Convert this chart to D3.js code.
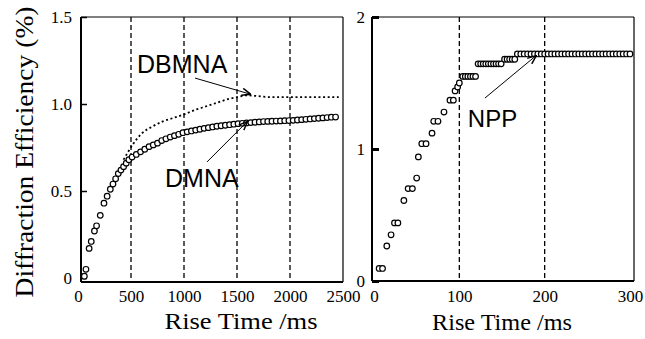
<!DOCTYPE html>
<html>
<head>
<meta charset="utf-8">
<script src="https://cdn.jsdelivr.net/npm/d3@7"></script>
<style>
  body { margin: 0; background: #fff; }
  svg { display: block; }
</style>
</head>
<body>
<svg id="chart" width="645" height="339"></svg>
<script>
// Left panel: DMNA (open markers) and DBMNA (dotted line)
const dmnaTime = [60, 75, 105, 125, 155, 175, 210, 245, 275, 305, 330, 355, 380, 405, 430, 455, 480,
  510, 550, 590, 630, 670, 710, 750, 790, 830, 870, 910, 950, 990, 1030, 1070, 1110, 1150, 1190,
  1230, 1270, 1310, 1350, 1390, 1430, 1470, 1510, 1550, 1590, 1630, 1670, 1710, 1750, 1790, 1830,
  1870, 1910, 1950, 1990, 2030, 2070, 2110, 2150, 2190, 2230, 2270, 2310, 2350, 2390, 2430];
const dmnaDE = [0.01, 0.05, 0.17, 0.21, 0.27, 0.30, 0.36, 0.43, 0.47, 0.51, 0.54, 0.57, 0.60, 0.62, 0.64, 0.66, 0.68,
  0.695, 0.71, 0.725, 0.74, 0.755, 0.765, 0.775, 0.79, 0.80, 0.81, 0.818, 0.826, 0.835, 0.84, 0.845, 0.85, 0.855, 0.86,
  0.864, 0.868, 0.872, 0.875, 0.878, 0.881, 0.884, 0.887, 0.889, 0.891, 0.893, 0.895, 0.897, 0.899, 0.90, 0.901,
  0.902, 0.903, 0.904, 0.905, 0.906, 0.908, 0.91, 0.912, 0.914, 0.916, 0.918, 0.92, 0.922, 0.924, 0.925];

const dbmnaTime = [430, 520, 600, 700, 800, 900, 1000, 1100, 1200, 1300, 1400, 1500, 1600, 1700, 1800, 1900, 2000, 2100, 2200, 2300, 2400, 2460];
const dbmnaDE = [0.68, 0.77, 0.83, 0.87, 0.90, 0.92, 0.94, 0.965, 0.985, 1.005, 1.025, 1.04, 1.05, 1.045, 1.04, 1.04, 1.04, 1.04, 1.04, 1.04, 1.04, 1.04];

// Right panel: NPP
const nppTime = [6, 10, 15, 20, 24, 28, 35, 40, 45, 50, 52, 56, 61, 68, 70, 75, 82, 89, 93, 95, 98, 100,
  104, 107, 110, 113, 116, 119,
  122, 125, 128, 131, 134, 137, 140, 143, 146, 149,
  153, 156, 159, 162, 165,
  168, 172, 176, 180, 184, 188, 192, 196, 200, 204, 208, 212, 216, 220, 224, 228, 232, 236, 240,
  244, 248, 252, 256, 260, 264, 268, 272, 276, 280, 284, 288, 292, 296, 300];
const nppDE = [0.095, 0.095, 0.265, 0.35, 0.44, 0.44, 0.61, 0.70, 0.70, 0.78, 0.94, 1.04, 1.04, 1.12, 1.21, 1.21, 1.28, 1.37, 1.37, 1.44, 1.47, 1.50,
  1.55, 1.55, 1.55, 1.55, 1.55, 1.55,
  1.645, 1.645, 1.645, 1.645, 1.645, 1.645, 1.645, 1.645, 1.645, 1.645,
  1.68, 1.68, 1.68, 1.68, 1.68,
  1.72, 1.72, 1.72, 1.72, 1.72, 1.72, 1.72, 1.72, 1.72, 1.72, 1.72, 1.72, 1.72, 1.72, 1.72, 1.72, 1.72, 1.72, 1.72,
  1.72, 1.72, 1.72, 1.72, 1.72, 1.72, 1.72, 1.72, 1.72, 1.72, 1.72, 1.72, 1.72, 1.72, 1.72];

// ticks and guide lines
const leftXTicks = [0, 500, 1000, 1500, 2000, 2500];
const leftYTicks = [0, 0.5, 1.0, 1.5];
const leftGuides = [500, 1000, 1500, 2000];
const rightXTicks = [0, 100, 200, 300];
const rightYTicks = [0, 1, 2];
const rightGuides = [100, 200];

const serif = '"Liberation Serif", "Times New Roman", serif';
const sans = '"Liberation Sans", Arial, sans-serif';

const svg = d3.select('#chart');
svg.append('rect').attr('width', 645).attr('height', 339).attr('fill', '#fff');

svg.append('defs').append('marker')
  .attr('id', 'arrow').attr('viewBox', '0 0 10 10').attr('refX', 9).attr('refY', 5)
  .attr('markerWidth', 9).attr('markerHeight', 9).attr('markerUnits', 'userSpaceOnUse')
  .attr('orient', 'auto')
  .append('path').attr('d', 'M0,1 L10,5 L0,9').attr('fill', 'none').attr('stroke', '#000').attr('stroke-width', 1.6);

// scales
const xL = d3.scaleLinear().domain([28.3, 2500]).range([81, 343]);
const yL = d3.scaleLinear().domain([0, 1.5]).range([278, 17]);
const xR = d3.scaleLinear().domain([0, 300]).range([374, 630]);
const yR = d3.scaleLinear().domain([0, 2]).range([281, 17]);

function frame(x0, y0, x1, y1) {
  const g = svg.append('g').attr('stroke', '#000').attr('fill', 'none');
  g.append('line').attr('x1', x0).attr('x2', x1).attr('y1', y0).attr('y2', y0).attr('stroke-width', 1.2);
  g.append('line').attr('x1', x1).attr('x2', x1).attr('y1', y0).attr('y2', y1).attr('stroke-width', 1.2);
  g.append('line').attr('x1', x0).attr('x2', x0).attr('y1', y0).attr('y2', y1).attr('stroke-width', 2);
  g.append('line').attr('x1', x0).attr('x2', x1).attr('y1', y1).attr('y2', y1).attr('stroke-width', 2);
}

function guides(xs, vals, y0, y1) {
  svg.append('g').selectAll('line').data(vals).enter().append('line')
    .attr('x1', d => xs(d)).attr('x2', d => xs(d)).attr('y1', y0).attr('y2', y1)
    .attr('stroke', '#000').attr('stroke-width', 1.3).attr('stroke-dasharray', '5,3');
}

function styleAxis(g) {
  g.select('.domain').remove();
  g.attr('font-family', null).attr('font-size', null);
  g.selectAll('text').style('font-family', serif).style('font-size', '17px').attr('fill', '#000');
  g.selectAll('line').attr('stroke', '#000');
}

// ---- left panel ----
guides(xL, leftGuides, 17, 282);

svg.append('g').attr('transform', 'translate(0,282)')
  .call(d3.axisBottom(xL).tickValues(leftXTicks).tickSize(0).tickPadding(8).tickFormat(d3.format('d')))
  .call(styleAxis);
svg.append('g').attr('transform', 'translate(81,0)')
  .call(d3.axisLeft(yL).tickValues(leftYTicks).tickSizeInner(-6).tickSizeOuter(0).tickPadding(9)
    .tickFormat(d => d === 0 ? '0' : d3.format('.1f')(d)))
  .call(g => { styleAxis(g); g.selectAll('line').attr('stroke-width', 1.5); });

svg.append('path')
  .datum(dbmnaTime.map((t, i) => [t, dbmnaDE[i]]))
  .attr('d', d3.line().x(d => xL(d[0])).y(d => yL(d[1])).curve(d3.curveMonotoneX))
  .attr('fill', 'none').attr('stroke', '#000').attr('stroke-width', 1.8).attr('stroke-dasharray', '2,2.6');

svg.append('g').selectAll('circle').data(dmnaTime.map((t, i) => [t, dmnaDE[i]])).enter().append('circle')
  .attr('cx', d => xL(d[0])).attr('cy', d => yL(d[1])).attr('r', 2.8)
  .attr('fill', '#fff').attr('stroke', '#000').attr('stroke-width', 1.2);

frame(81, 17, 343, 282);

// annotations (data units)
svg.append('text').attr('x', xL(557)).attr('y', yL(1.178)).text('DBMNA')
  .attr('font-family', sans).attr('font-size', '25px');
svg.append('line').attr('x1', xL(1104)).attr('y1', yL(1.149)).attr('x2', xL(1623)).attr('y2', yL(1.057))
  .attr('stroke', '#000').attr('stroke-width', 1).attr('marker-end', 'url(#arrow)');
svg.append('text').attr('x', xL(821)).attr('y', yL(0.523)).text('DMNA')
  .attr('font-family', sans).attr('font-size', '25px');
svg.append('line').attr('x1', xL(1217)).attr('y1', yL(0.667)).attr('x2', xL(1594)).attr('y2', yL(0.897))
  .attr('stroke', '#000').attr('stroke-width', 1).attr('marker-end', 'url(#arrow)');

// ---- right panel ----
guides(xR, rightGuides, 17, 281);

svg.append('g').attr('transform', 'translate(0,281)')
  .call(d3.axisBottom(xR).tickValues(rightXTicks).tickSize(0).tickPadding(9).tickFormat(d3.format('d')))
  .call(styleAxis);
svg.append('g').attr('transform', 'translate(372,0)')
  .call(d3.axisLeft(yR).tickValues(rightYTicks).tickSizeInner(-7).tickSizeOuter(0).tickPadding(7).tickFormat(d3.format('d')))
  .call(g => { styleAxis(g); g.selectAll('line').attr('stroke-width', 3); });

svg.append('g').selectAll('circle').data(nppTime.map((t, i) => [t, nppDE[i]])).enter().append('circle')
  .attr('cx', d => xR(d[0])).attr('cy', d => yR(d[1])).attr('r', 2.8)
  .attr('fill', '#fff').attr('stroke', '#000').attr('stroke-width', 1.2);

frame(372, 17, 634, 281);

svg.append('text').attr('x', xR(110)).attr('y', yR(1.167)).text('NPP')
  .attr('font-family', sans).attr('font-size', '24px');
svg.append('line').attr('x1', xR(130)).attr('y1', yR(1.386)).attr('x2', xR(189.5)).attr('y2', yR(1.705))
  .attr('stroke', '#000').attr('stroke-width', 1).attr('marker-end', 'url(#arrow)');

// ---- axis titles ----
svg.append('text').attr('transform', 'translate(33,152) rotate(-90)').attr('text-anchor', 'middle')
  .attr('font-family', serif).attr('font-size', '26px')
  .attr('textLength', 291).attr('lengthAdjust', 'spacingAndGlyphs')
  .text('Diffraction Efficiency (%)');
svg.append('text').attr('x', 241).attr('y', 329).attr('text-anchor', 'middle')
  .attr('font-family', serif).attr('font-size', '23px')
  .attr('textLength', 153).attr('lengthAdjust', 'spacingAndGlyphs')
  .text('Rise Time /ms');
svg.append('text').attr('x', 502).attr('y', 330).attr('text-anchor', 'middle')
  .attr('font-family', serif).attr('font-size', '23px')
  .attr('textLength', 140).attr('lengthAdjust', 'spacingAndGlyphs')
  .text('Rise Time /ms');
</script>
</body>
</html>
